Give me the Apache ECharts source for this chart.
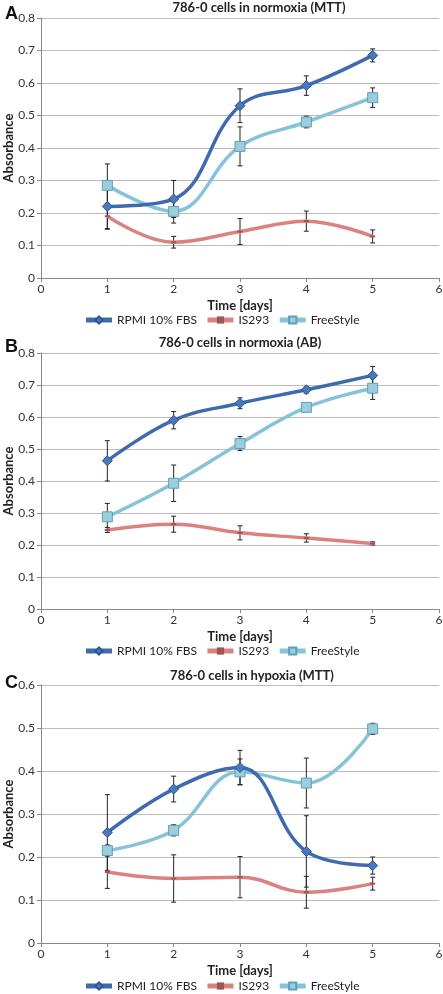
<!DOCTYPE html>
<html><head><meta charset="utf-8">
<script src="https://cdn.jsdelivr.net/npm/echarts@6/dist/echarts.min.js"></script>
<style>html,body{margin:0;padding:0;background:#fff}#c{width:443px;height:994px}</style>
</head><body><div id="c"></div>
<script>
// ---- data ----
const days = [1, 2, 3, 4, 5];
const seriesNames = ['RPMI 10% FBS', 'IS293', 'FreeStyle'];
const xTicks = [0, 1, 2, 3, 4, 5, 6];

// Panel A: 786-0 cells in normoxia (MTT)
const aRpmi = [0.220, 0.243, 0.530, 0.592, 0.685];
const aRpmiErr = [0.068, 0.057, 0.052, 0.030, 0.020];
const aIs = [0.190, 0.110, 0.143, 0.175, 0.128];
const aIsErr = [0.040, 0.018, 0.040, 0.031, 0.020];
const aFree = [0.285, 0.205, 0.405, 0.480, 0.555];
const aFreeErr = [0.066, 0.036, 0.060, 0.018, 0.030];

// Panel B: 786-0 cells in normoxia (AB)
const bRpmi = [0.463, 0.590, 0.643, 0.685, 0.730];
const bRpmiErr = [0.063, 0.027, 0.017, 0.010, 0.028];
const bIs = [0.247, 0.265, 0.238, 0.222, 0.205];
const bIsErr = [0.008, 0.025, 0.022, 0.013, 0.005];
const bFree = [0.288, 0.393, 0.517, 0.630, 0.690];
const bFreeErr = [0.042, 0.057, 0.022, 0.010, 0.035];

// Panel C: 786-0 cells in hypoxia (MTT)
const cRpmi = [0.257, 0.358, 0.408, 0.213, 0.180];
const cRpmiErr = [0.088, 0.030, 0.040, 0.083, 0.020];
const cIs = [0.165, 0.150, 0.153, 0.118, 0.138];
const cIsErr = [0.038, 0.055, 0.048, 0.037, 0.015];
const cFree = [0.215, 0.262, 0.398, 0.372, 0.498];
const cFreeErr = [0.013, 0.013, 0.030, 0.058, 0.013];

const panels = [
  {letter: 'A', title: '786-0 cells in normoxia (MTT)', ymax: 0.8, rpmi: aRpmi, rpmiErr: aRpmiErr, is: aIs, isErr: aIsErr, free: aFree, freeErr: aFreeErr},
  {letter: 'B', title: '786-0 cells in normoxia (AB)', ymax: 0.8, rpmi: bRpmi, rpmiErr: bRpmiErr, is: bIs, isErr: bIsErr, free: bFree, freeErr: bFreeErr},
  {letter: 'C', title: '786-0 cells in hypoxia (MTT)', ymax: 0.6, rpmi: cRpmi, rpmiErr: cRpmiErr, is: cIs, isErr: cIsErr, free: cFree, freeErr: cFreeErr}
];

// ---- layout / style ----
const FONT = 'Lato';
const layout = [
  {top: 18, height: 260, titleX: 259, titleY: 8, letterY: 14, legendTop: 314},
  {top: 353, height: 256, titleX: 240, titleY: 343, letterY: 347, legendTop: 645},
  {top: 685, height: 258, titleX: 252, titleY: 676, letterY: 683, legendTop: 980}
];
const colors = {rpmi: '#3F6BAE', is: '#D9827F', free: '#86C3D8'};

function errRender(params, api) {
  const x = api.value(0), y = api.value(1), e = api.value(2);
  const top = api.coord([x, y + e]);
  const bot = api.coord([x, y - e]);
  const cap = 2.5;
  const st = {stroke: '#222', lineWidth: 1};
  return {type: 'group', children: [
    {type: 'line', shape: {x1: top[0], y1: top[1], x2: bot[0], y2: bot[1]}, style: st},
    {type: 'line', shape: {x1: top[0] - cap, y1: top[1], x2: top[0] + cap, y2: top[1]}, style: st},
    {type: 'line', shape: {x1: bot[0] - cap, y1: bot[1], x2: bot[0] + cap, y2: bot[1]}, style: st}
  ]};
}

const grid = [], xAxis = [], yAxis = [], series = [], legend = [], graphic = [];
panels.forEach((p, i) => {
  const L = layout[i];
  grid.push({left: 41, right: 4, top: L.top, height: L.height, containLabel: false, outerBoundsMode: 'none'});
  xAxis.push({
    type: 'value', gridIndex: i, min: xTicks[0], max: xTicks[xTicks.length - 1], interval: 1,
    name: 'Time [days]', nameLocation: 'middle', nameGap: 21, nameMoveOverlap: false,
    nameTextStyle: {fontFamily: FONT, fontWeight: 'bold', fontSize: 13, color: '#222'},
    axisLine: {lineStyle: {color: '#888'}}, axisTick: {show: true, length: 4, lineStyle: {color: '#888'}},
    axisLabel: {fontFamily: FONT, fontSize: 12, color: '#333', margin: 5},
    splitLine: {show: false}
  });
  yAxis.push({
    type: 'value', gridIndex: i, min: 0, max: p.ymax, interval: 0.1,
    name: 'Absorbance', nameLocation: 'middle', nameGap: 26, nameMoveOverlap: false,
    nameTextStyle: {fontFamily: FONT, fontWeight: 'bold', fontSize: 13, color: '#222'},
    axisLine: {show: true, lineStyle: {color: '#888'}}, axisTick: {show: true, length: 4, lineStyle: {color: '#888'}},
    axisLabel: {fontFamily: FONT, fontSize: 12, color: '#333', margin: 6, formatter: v => String(+v.toFixed(1))},
    splitLine: {show: true, lineStyle: {color: '#bbb', width: 1}}
  });
  graphic.push({type: 'text', x: L.titleX, y: L.titleY, z: 10,
    style: {text: p.title, fontFamily: FONT, fontWeight: 'bold', fontSize: 13, fill: '#222', align: 'center', verticalAlign: 'middle'}});
  graphic.push({type: 'text', x: 5, y: L.letterY, z: 10,
    style: {text: p.letter, fontFamily: 'Liberation Sans', fontWeight: 'bold', fontSize: 18, fill: '#111', verticalAlign: 'middle'}});
  legend.push({
    top: L.legendTop, left: 'center', itemWidth: 26, itemHeight: 9, itemGap: 8, padding: 0,
    data: seriesNames, lineStyle: {width: 5},
    textStyle: {fontFamily: FONT, fontSize: 12, color: '#222'}
  });

  const mk = (vals) => days.map((d, k) => [d, vals[k]]);
  const mkE = (vals, errs) => days.map((d, k) => [d, vals[k], errs[k]]);
  [[p.rpmi, p.rpmiErr], [p.is, p.isErr], [p.free, p.freeErr]].forEach(([v, e]) => {
    series.push({type: 'custom', xAxisIndex: i, yAxisIndex: i, renderItem: errRender, data: mkE(v, e), z: 2, silent: true});
  });
  series.push({
    name: seriesNames[1], type: 'line', xAxisIndex: i, yAxisIndex: i, smooth: 0.4, data: mk(p.is), z: 3,
    lineStyle: {color: colors.is, width: 3.5}, symbol: 'rect', symbolSize: [5, 2],
    itemStyle: {color: '#9C5553'}
  });
  series.push({
    name: seriesNames[2], type: 'line', xAxisIndex: i, yAxisIndex: i, smooth: 0.4, data: mk(p.free), z: 4,
    lineStyle: {color: colors.free, width: 3.5}, symbol: 'rect', symbolSize: 10,
    itemStyle: {color: '#9DCCDD', borderColor: '#5E9FB8', borderWidth: 1}
  });
  series.push({
    name: seriesNames[0], type: 'line', xAxisIndex: i, yAxisIndex: i, smooth: 0.4, data: mk(p.rpmi), z: 5,
    lineStyle: {color: colors.rpmi, width: 3.5}, symbol: 'diamond', symbolSize: 10,
    itemStyle: {color: '#4A78BD', borderColor: '#2F5690', borderWidth: 1}
  });
});

const chart = echarts.init(document.getElementById('c'), null, {renderer: 'canvas'});
chart.setOption({
  animation: false, backgroundColor: '#fff',
  color: [colors.rpmi, colors.is, colors.free],
  legend, grid, xAxis, yAxis, series, graphic
});
</script></body></html>
